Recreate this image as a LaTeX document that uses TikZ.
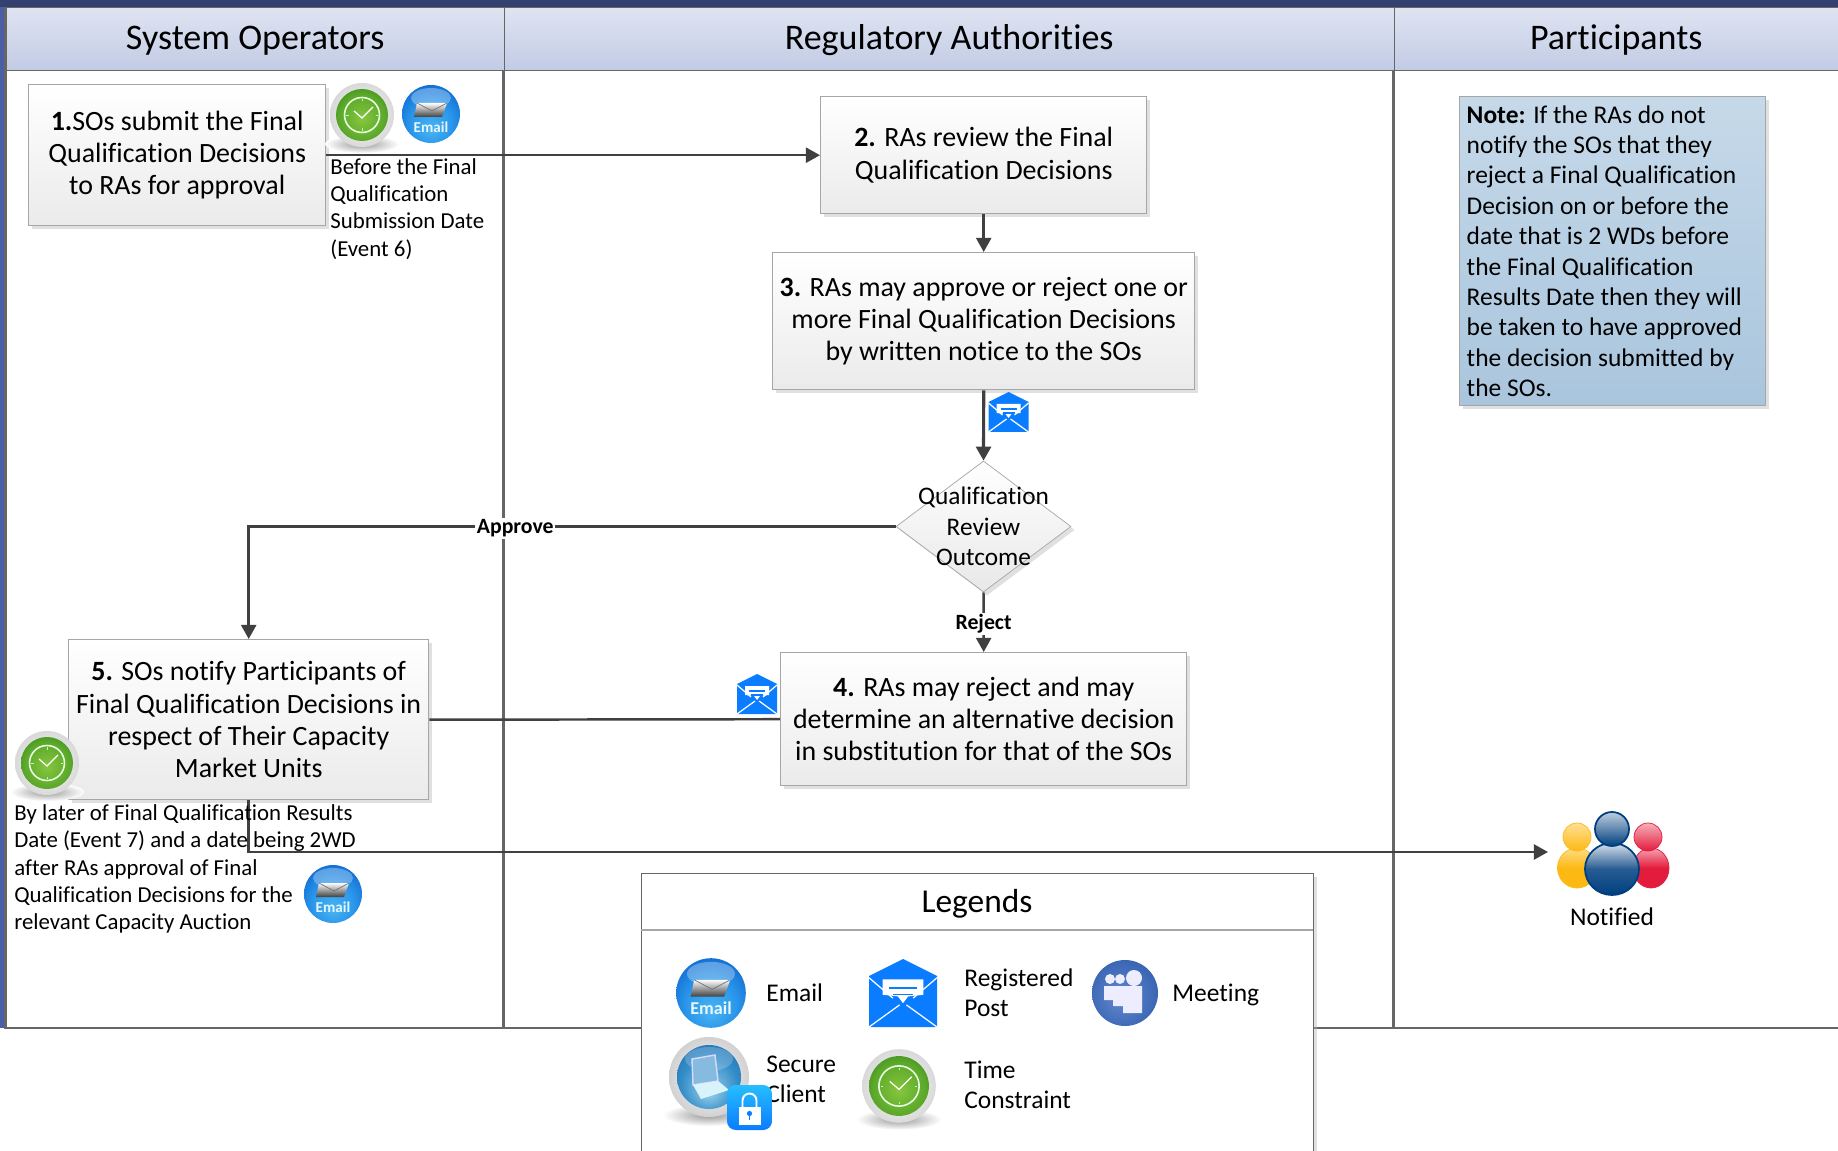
\documentclass[tikz,border=0pt]{standalone}
\usepackage{fontspec}
\setmainfont{Carlito}[Ligatures=NoCommon]
\usetikzlibrary{arrows.meta,shadows,shapes.geometric}

\definecolor{navybar}{HTML}{34406F}
\definecolor{sidebar}{HTML}{4A5FA5}
\definecolor{laneline}{HTML}{666666}
\definecolor{flowline}{HTML}{404040}
\definecolor{boxline}{HTML}{A6A6A6}
\definecolor{postblue}{HTML}{0A7CFF}
\definecolor{headtop}{HTML}{DFE4F2}
\definecolor{headbot}{HTML}{C1CBE4}
\definecolor{notetop}{HTML}{C6D9E9}
\definecolor{notebot}{HTML}{A9C5DD}
\definecolor{pplyellow}{HTML}{FDB913}
\definecolor{pplred}{HTML}{E31B3C}
\definecolor{pplblue}{HTML}{003F7F}
\definecolor{mailone}{HTML}{4AB4F2}
\definecolor{mailtwo}{HTML}{2A97EB}
\definecolor{mailthree}{HTML}{0E66CE}
\definecolor{mailfour}{HTML}{0A4DA6}
\definecolor{clockone}{HTML}{86C63E}
\definecolor{clocktwo}{HTML}{5CA82A}
\definecolor{clockthree}{HTML}{238219}
\definecolor{clockfour}{HTML}{14661A}
\definecolor{lapone}{HTML}{9FD2EC}
\definecolor{laptwo}{HTML}{338DC8}
\definecolor{lapthree}{HTML}{145096}
\definecolor{meetone}{HTML}{6488CC}
\definecolor{meettwo}{HTML}{3C68B6}
\definecolor{meetthree}{HTML}{1A4292}

\pgfdeclareradialshading{emailball}{\pgfpoint{0bp}{-14bp}}{color(0bp)=(mailone);color(18bp)=(mailtwo);color(34bp)=(mailthree);color(50bp)=(mailfour)}
\pgfdeclareradialshading{clockball}{\pgfpoint{0bp}{-4bp}}{color(0bp)=(clockone);color(22bp)=(clocktwo);color(38bp)=(clockthree);color(50bp)=(clockfour)}
\pgfdeclareradialshading{laptopball}{\pgfpoint{0bp}{-12bp}}{color(0bp)=(lapone);color(22bp)=(laptwo);color(50bp)=(lapthree)}
\pgfdeclareradialshading{meetball}{\pgfpoint{-4bp}{-4bp}}{color(0bp)=(meetone);color(25bp)=(meettwo);color(50bp)=(meetthree)}

\tikzset{
  x=0.02cm, y=-0.02cm,
  boxsize/.style 2 args={minimum width=#1*0.02cm, minimum height=#2*0.02cm},
  boxtext/.style={font=\fontsize{15.9}{18.3}\selectfont, align=center, inner sep=0pt},
  softshadow/.style={drop shadow={shadow xshift=2pt, shadow yshift=-2pt, fill=black!30, opacity=.4}},
  stepbox/.style={boxtext, draw=boxline, thick, top color=white, bottom color=black!8, softshadow},
  lanehead/.style={draw=laneline, thick, top color=headtop, bottom color=headbot,
    font=\fontsize{20.5}{24}\selectfont, inner sep=0pt},
  laneline/.style={draw=laneline, line width=1.2pt},
  flow/.style={draw=flowline, line width=1.4pt, -{Triangle[length=8pt,width=8.5pt]}},
  plainflow/.style={draw=flowline, line width=1.4pt},
  duetext/.style={font=\fontsize{13}{15.5}\selectfont, align=left, inner sep=0pt},
  flowlabel/.style={font=\fontsize{12.4}{15}\selectfont\bfseries, fill=white, inner sep=1pt},
  legendtext/.style={font=\fontsize{14.5}{17.2}\selectfont, align=left, inner sep=0pt},
  pics/clockicon/.style={code={
    \shade[inner color=black!40, outer color=white] (0,29) ellipse (37 and 9);
    \shade[inner color=white, outer color=black!15] (0,0) circle (32);
    \shade[shading=clockball] (0,0) circle (26);
    \draw[white!90!green, line width=.9pt] (0,0) circle (17.5);
    \foreach \a in {0,90,180,270}
      \draw[white!70!green, line width=.5pt] (\a:13.5) -- (\a:16);
    \draw[white, line width=.7pt] (-8,-4) -- (0,3) -- (11,-8);
  }},
  pics/emailicon/.style={code={
    \shade[shading=emailball] (0,0) circle (29);
    \fill[white, opacity=.3] (0,-16) ellipse (20 and 10);
    \shade[top color=white, bottom color=black!75] (-14,-11) -- (16,-11) -- (11,3) -- (-17,3) -- cycle;
    \draw[black!55, line width=.4pt] (-14,-11) -- (1,-3) -- (16,-11);
    \node[transform shape, white!90!cyan, font=\fontsize{8.6}{10}\selectfont\bfseries, inner sep=0pt] at (0,13) {Email};
  }},
  pics/posticon/.style={code={
    \fill[postblue] (-20,-10) -- (0,-20) -- (20,-10) -- (20,20) -- (-20,20) -- cycle;
    \fill[white] (-12,-8) -- (12,-8) -- (12,1) -- (3,2) -- (0,6) -- (-3,2) -- (-12,1) -- cycle;
    \draw[postblue, line width=.7pt] (-8,-3) -- (8,-3) (-6,1) -- (6,1);
    \draw[white, line width=.7pt] (-20,-9) -- (-6,3) (20,-9) -- (6,3) (-20,20) -- (-2,7) (20,20) -- (2,7);
  }},
  pics/meeticon/.style={code={
    \shade[shading=meetball] (0,0) circle (33);
    \fill[white!93!blue] (-15,-14) circle (5) (-5,-14) circle (5) (9,-15) circle (8);
    \fill[white!93!blue] (-21,-7) -- (17,-7) -- (17,20) -- (-2,20) -- (-2,13) -- (-12,13) -- (-12,7) -- (-21,7) -- cycle;
  }},
  pics/laptopicon/.style={code={
    \shade[inner color=black!40, outer color=white] (0,38) ellipse (46 and 11);
    \shade[inner color=white, outer color=black!18] (0,0) circle (40);
    \shade[shading=laptopball] (0,0) circle (32);
    \fill[white, opacity=.2] (0,-18) ellipse (24 and 12);
    \draw[white!85!blue, line width=.8pt, fill=laptwo!60!white] (-17,-18) -- (6,-22) -- (9,4) -- (-16,8) -- cycle;
    \fill[white!85!cyan] (-16,8) -- (9,4) -- (20,13) -- (-8,22) -- cycle;
  }},
  pics/lockicon/.style={code={
    \shade[rounded corners=5pt, top color=cyan!70!blue!85!white, bottom color=postblue] (-22.5,-22.5) rectangle (22.5,22.5);
    \draw[white, line width=1.1pt] (-7,0) -- (-7,-7) arc (180:0:7 and -7) -- (7,0);
    \fill[white] (-11,-1) rectangle (11,17);
    \fill[postblue] (0,6) circle (2.6);
    \draw[postblue, line width=.9pt] (0,6) -- (0,12);
  }},
  pics/peopleicon/.style={code={
    \shade[top color=pplyellow!50!white, bottom color=pplyellow, middle color=pplyellow, draw=pplyellow] (-35,39) ellipse (19.5 and 20);
    \shade[top color=pplred!40!white, bottom color=pplred, middle color=pplred, draw=pplred] (39,39) ellipse (18 and 20);
    \shade[top color=pplyellow!45!white, bottom color=pplyellow, draw=pplyellow] (-35,8) circle (14);
    \shade[top color=pplred!35!white, bottom color=pplred, draw=pplred] (36,8) circle (14);
    \shade[top color=pplblue!15!white, bottom color=pplblue, middle color=pplblue!85!white, draw=pplblue, line width=1pt] (0,40) ellipse (27 and 26);
    \shade[top color=pplblue!25!white, bottom color=pplblue, draw=pplblue, line width=1pt] (0,0) circle (17);
  }}
}

\begin{document}
\begin{tikzpicture}
\useasboundingbox (0,0) rectangle (1838,1151);
\fill[white] (0,0) rectangle (1838,1151);
% lanes
\fill[sidebar] (0,7) rectangle (5,1028);
\node[lanehead, anchor=north west, boxsize={498}{63}, text depth=3.5pt, text height=15.5pt] (hdsys) at (5.5,7) {System Operators};
\node[lanehead, anchor=north west, boxsize={890}{63}, text depth=3.5pt, text height=15.5pt] (hdreg) at (503.5,7) {Regulatory Authorities};
\node[lanehead, anchor=north west, boxsize={444}{63}, text depth=3.5pt, text height=15.5pt] (hdpart) at (1393.5,7) {Participants};
\fill[navybar] (0,0) rectangle (1838,7);
\draw[laneline] (503.5,70) -- (503.5,1028);
\draw[laneline] (1393.5,70) -- (1393.5,1028);
\draw[laneline] (5.5,7) -- (5.5,1028) -- (1838,1028);
% steps
\node[stepbox, anchor=north west, boxsize={297}{141}] (stepa) at (28,84)
  {\textbf{1.}SOs submit the Final\\Qualification Decisions\\to RAs for approval};
\node[stepbox, anchor=north west, boxsize={326}{117}] (stepb) at (820,96)
  {\textbf{2.} RAs review the Final\\Qualification Decisions};
\node[stepbox, anchor=north west, boxsize={422}{137}] (stepc) at (772,252)
  {\textbf{3.} RAs may approve or reject one or\\more Final Qualification Decisions\\by written notice to the SOs};
\node[stepbox, anchor=north west, boxsize={406}{133}] (stepd) at (780,652)
  {\textbf{4.} RAs may reject and may\\determine an alternative decision\\in substitution for that of the SOs};
\node[stepbox, anchor=north west, boxsize={360}{160}] (stepe) at (68,639)
  {\textbf{5.} SOs notify Participants of\\Final Qualification Decisions in\\respect of Their Capacity\\Market Units};
\node[diamond, draw=boxline, top color=white, bottom color=black!9, inner sep=0pt, shape aspect=1.336,
  boxsize={175}{131}, softshadow] (outcome) at (983.5,526.5) {};
\node[boxtext, font=\fontsize{14.4}{17.2}\selectfont] (outcometext) at (outcome) {Qualification\\Review\\Outcome};
\node[draw=boxline, thick, top color=notetop, bottom color=notebot, anchor=north west,
  boxsize={306}{309}, text width=292*0.02cm, inner sep=0pt, align=flush left, font=\fontsize{14.5}{17.3}\selectfont,
  softshadow] (note) at (1459,96)
  {\textbf{Note:} If the RAs do not\\notify the SOs that they\\reject a Final Qualification\\Decision on or before the\\date that is 2 WDs before\\the Final Qualification\\Results Date then they will\\be taken to have approved\\the decision submitted by\\the SOs.};
% connectors
\coordinate (notifytip) at (1548,852);
\draw[flow] (stepa.east) -- (stepb.west);
\draw[flow] (stepb.south) -- (stepc.north);
\draw[flow, line width=1.8pt] (stepc.south) -- (outcome.north);
\draw[flow] (outcome.west) -| (stepe.north) node[flowlabel, pos=0.294, yshift=-1.1pt] (approve) {Approve};
\draw[flow] (outcome.south) -- (stepd.north) node[flowlabel, midway, yshift=-1.1pt] (reject) {Reject};
\draw[plainflow] (stepd.west) -- (stepe.east);
\draw[flow] (stepe.south) |- (notifytip);
% texts beside the steps
\node[duetext, anchor=west] (duesubmit) at (330,209) {Before the Final\\Qualification\\Submission Date\\(Event 6)};
\node[duetext, anchor=west] (duenotify) at (14,869) {By later of Final Qualification Results\\Date (Event 7) and a date being 2WD\\after RAs approval of Final\\Qualification Decisions for the\\relevant Capacity Auction};
\node[font=\fontsize{14.5}{17}\selectfont, inner sep=0pt] (notified) at (1612,917) {Notified};
% icons
\pic at (362,115) {clockicon};
\pic at (431,114) {emailicon};
\pic at (47,763) {clockicon};
\pic at (333,894) {emailicon};
\pic at (1008.5,412) {posticon};
\pic at (757,694) {posticon};
\pic at (1612,829) {peopleicon};
% legend
\node[draw=laneline, fill=white, anchor=north west, boxsize={672}{320}, softshadow] (legend) at (641,873) {};
\draw[draw=boxline, thick] (641,930) -- (1313,930);
\node[font=\fontsize{19}{22}\selectfont, inner sep=0pt] (legendtitle) at (977,904) {Legends};
\pic[scale=1.2] at (711,993) {emailicon};
\node[legendtext, anchor=west] (lgemail) at (766,993) {Email};
\pic[scale=1.7] at (903,993) {posticon};
\node[legendtext, anchor=west] (lgpost) at (964,993) {Registered\\Post};
\pic at (1125,993) {meeticon};
\node[legendtext, anchor=west] (lgmeet) at (1172,995) {Meeting};
\pic at (709,1077) {laptopicon};
\node[legendtext, anchor=west] (lgsecure) at (766,1079) {Secure\\Client};
\pic at (749.5,1107.5) {lockicon};
\pic[scale=1.15] at (899,1086) {clockicon};
\node[legendtext, anchor=west] (lgtime) at (964,1084.5) {Time\\Constraint};
\end{tikzpicture}
\end{document}
